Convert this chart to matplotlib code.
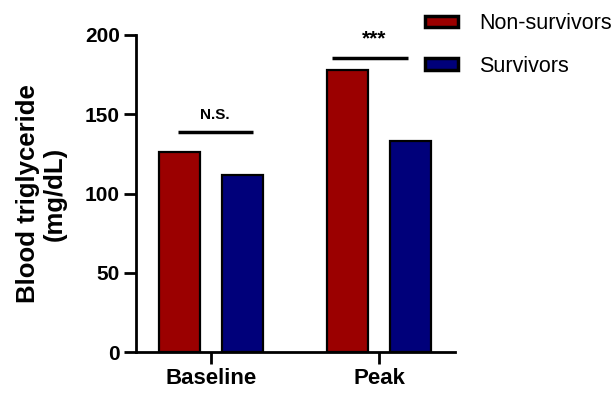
import matplotlib
matplotlib.use("Agg")
import matplotlib.pyplot as plt
import numpy as np

plt.rcParams['font.family'] = ['Liberation Sans', 'DejaVu Sans']

# data
groups = ['Baseline', 'Peak']
series = ['Non-survivors', 'Survivors']
non_survivors = [126, 178]
survivors = [112, 133]
sig_labels = ['N.S.', '***']
sig_heights = [139, 185.5]
colors = ['#9b0000', '#00007a']

fig = plt.figure(figsize=(6.15, 3.93), dpi=100)
ax = fig.add_axes([0.221, 0.104, 0.519, 0.807])

x = np.arange(len(groups))
w = 0.24
off = 0.1875
ax.bar(x - off, non_survivors, w, color=colors[0], edgecolor='black', linewidth=1.6, label=series[0])
ax.bar(x + off, survivors, w, color=colors[1], edgecolor='black', linewidth=1.6, label=series[1])

# significance bars (line extents / label offsets relative to the group tick)
line_ext = [(-0.196, 0.252), (-0.28, 0.17)]
text_dx = [0.024, -0.03]
text_dy = [6, 6]
text_size = [11, 15]
for xi, h, lab, (a, b), dx, dy, fs in zip(x, sig_heights, sig_labels, line_ext, text_dx, text_dy, text_size):
    ax.plot([xi + a, xi + b], [h, h], color='black', lw=2.5, solid_capstyle='butt')
    ax.text(xi + dx, h + dy, lab, ha='center', va='bottom', fontsize=fs, fontweight='bold')

ax.set_xlim(-0.446, 1.452)
ax.set_ylim(0, 200)
ax.set_yticks([0, 50, 100, 150, 200])
ax.set_xticks(x)
ax.set_xticklabels(groups)
for s in ['top', 'right']:
    ax.spines[s].set_visible(False)
for s in ['left', 'bottom']:
    ax.spines[s].set_linewidth(2)
ax.tick_params(width=2, length=8.5, pad=3)
ax.tick_params(axis='y', labelsize=15)
ax.tick_params(axis='x', labelsize=16)
for t in ax.get_xticklabels() + ax.get_yticklabels():
    t.set_fontweight('bold')
ax.set_ylabel('Blood triglyceride\n(mg/dL)', fontsize=18.5, fontweight='bold', labelpad=13,
              linespacing=1.15)

leg = fig.legend(*ax.get_legend_handles_labels(), loc='upper left',
                 bbox_to_anchor=(425 / 615, 1 - 13 / 393), frameon=False, fontsize=15.5,
                 borderpad=0, borderaxespad=0, handlelength=1.55, handleheight=0.45,
                 labelspacing=1.0, handletextpad=0.95)
for p in leg.get_patches():
    p.set_linewidth(2.5)

fig.savefig('out.png', dpi=100)
